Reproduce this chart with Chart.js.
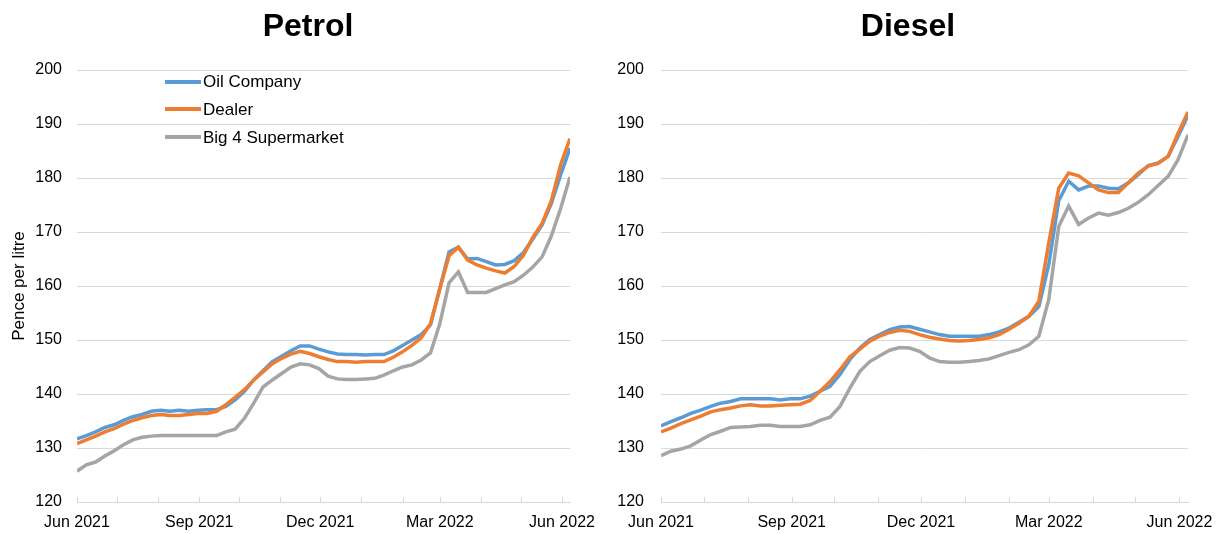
<!DOCTYPE html>
<html>
<head>
<meta charset="utf-8">
<script src="https://cdn.jsdelivr.net/npm/chart.js@4.4.0/dist/chart.umd.min.js"></script>
<style>
  html, body { margin: 0; padding: 0; background: #fff; }
  body { width: 1217px; height: 534px; position: relative; overflow: hidden; font-family: "Liberation Sans", Arial, sans-serif; }
  .box { position: absolute; top: 0; height: 534px; }
  #petrolBox { left: 0; width: 600px; }
  #dieselBox { left: 600px; width: 617px; }
  .title { position: absolute; top: 6px; width: 200px; text-align: center; font-size: 32px; font-weight: bold; color: #000; line-height: 38px; }
  .legend { position: absolute; left: 165px; top: 71px; font-size: 17px; color: #000; }
  .legend div { height: 27.8px; line-height: 22px; white-space: nowrap; }
  .legend span.swatch { display: inline-block; width: 36px; height: 4px; vertical-align: middle; margin-right: 2px; position: relative; top: -1px; }
</style>
</head>
<body>
<div class="box" id="petrolBox"><canvas id="petrolChart"></canvas></div>
<div class="box" id="dieselBox"><canvas id="dieselChart"></canvas></div>
<div class="title" style="left:208px">Petrol</div>
<div class="title" style="left:808px">Diesel</div>
<div class="legend" id="legend"></div>

<script>
// weekly dates
const weeks = [
  '2021-06-01', '2021-06-08', '2021-06-15', '2021-06-22', '2021-06-29',
  '2021-07-06', '2021-07-13', '2021-07-20', '2021-07-27', '2021-08-03',
  '2021-08-10', '2021-08-17', '2021-08-24', '2021-08-31', '2021-09-07',
  '2021-09-14', '2021-09-21', '2021-09-28', '2021-10-05', '2021-10-12',
  '2021-10-19', '2021-10-26', '2021-11-02', '2021-11-09', '2021-11-16',
  '2021-11-23', '2021-11-30', '2021-12-07', '2021-12-14', '2021-12-21',
  '2021-12-28', '2022-01-04', '2022-01-11', '2022-01-18', '2022-01-25',
  '2022-02-01', '2022-02-08', '2022-02-15', '2022-02-22', '2022-03-01',
  '2022-03-08', '2022-03-15', '2022-03-22', '2022-03-29', '2022-04-05',
  '2022-04-12', '2022-04-19', '2022-04-26', '2022-05-03', '2022-05-10',
  '2022-05-17', '2022-05-24', '2022-05-31', '2022-06-07'
];

// month tick marks, labelled every quarter
const monthTicks = [
  '2021-06-01', '2021-07-01', '2021-08-01', '2021-09-01', '2021-10-01',
  '2021-11-01', '2021-12-01', '2022-01-01', '2022-02-01', '2022-03-01',
  '2022-04-01', '2022-05-01', '2022-06-01'
];
const tickLabels = ['Jun 2021', '', '', 'Sep 2021', '', '', 'Dec 2021', '', '', 'Mar 2022', '', '', 'Jun 2022'];

const yTicks = [120, 130, 140, 150, 160, 170, 180, 190, 200];

const seriesNames = ['Oil Company', 'Dealer', 'Big 4 Supermarket'];
const seriesColors = ['#5B9BD5', '#ED7D31', '#A5A5A5'];

// petrol, pence per litre
const petrolOil = [
  131.7, 132.3, 133.0, 133.8, 134.3, 135.1, 135.8, 136.2, 136.8, 137.0,
  136.8, 137.0, 136.8, 137.0, 137.1, 137.1, 137.7, 138.9, 140.5, 142.6,
  144.3, 146.0, 147.0, 148.0, 148.9, 148.9, 148.3, 147.8, 147.4, 147.3,
  147.3, 147.2, 147.3, 147.3, 148.0, 149.0, 150.0, 151.0, 152.8, 159.5,
  166.3, 167.2, 165.0, 165.1, 164.5, 163.9, 164.0, 164.7, 166.2, 168.7,
  171.3, 175.3, 180.6, 185.5
];
const petrolDealer = [
  130.8, 131.5, 132.2, 133.0, 133.6, 134.4, 135.1, 135.6, 136.0, 136.2,
  136.0, 136.0, 136.2, 136.4, 136.4, 136.8, 138.0, 139.4, 140.8, 142.6,
  144.1, 145.6, 146.6, 147.4, 147.9, 147.5, 146.9, 146.4, 146.0, 146.0,
  145.9, 146.0, 146.0, 146.0, 146.8, 147.8, 149.0, 150.4, 153.0, 159.5,
  165.6, 167.2, 164.8, 163.9, 163.3, 162.8, 162.4, 163.6, 165.7, 169.0,
  171.6, 175.8, 182.5, 187.3
];
const petrolSuper = [
  125.7, 126.9, 127.4, 128.5, 129.5, 130.6, 131.5, 132.0, 132.2, 132.3,
  132.3, 132.3, 132.3, 132.3, 132.3, 132.3, 133.0, 133.5, 135.5, 138.3,
  141.3, 142.6, 143.8, 145.0, 145.6, 145.4, 144.7, 143.3, 142.8, 142.7,
  142.7, 142.8, 142.9, 143.5, 144.3, 145.0, 145.4, 146.3, 147.6, 153.0,
  160.6, 162.6, 158.8, 158.8, 158.8, 159.5, 160.2, 160.8, 162.0, 163.5,
  165.4, 169.3, 174.4, 180.2
];

// diesel, pence per litre
const dieselOil = [
  134.1, 134.9, 135.6, 136.4, 137.0, 137.7, 138.3, 138.6, 139.1, 139.1,
  139.1, 139.1, 138.9, 139.1, 139.1, 139.6, 140.5, 141.4, 143.6, 146.4,
  148.5, 150.1, 151.0, 151.9, 152.4, 152.5, 152.0, 151.5, 151.0, 150.7,
  150.7, 150.7, 150.7, 151.0, 151.5, 152.2, 153.3, 154.4, 156.2, 164.0,
  175.8, 179.4, 177.8, 178.5, 178.5, 178.1, 178.0, 179.1, 180.6, 182.3,
  182.8, 184.0, 187.7, 191.6
];
const dieselDealer = [
  133.0, 133.7, 134.5, 135.2, 135.9, 136.7, 137.1, 137.4, 137.8, 138.0,
  137.8, 137.8, 137.9, 138.0, 138.1, 138.8, 140.5, 142.3, 144.5, 146.9,
  148.3, 149.8, 150.7, 151.4, 151.8, 151.6, 151.0, 150.5, 150.2, 149.9,
  149.8, 149.9, 150.1, 150.4, 151.0, 152.0, 153.1, 154.4, 157.2, 168.0,
  178.1, 180.9, 180.4, 179.1, 177.8, 177.3, 177.3, 179.1, 180.9, 182.2,
  182.7, 184.0, 188.3, 192.2
];
const dieselSuper = [
  128.6, 129.4, 129.8, 130.4, 131.5, 132.5, 133.1, 133.8, 133.9, 134.0,
  134.2, 134.2, 134.0, 134.0, 134.0, 134.3, 135.1, 135.7, 137.7, 141.1,
  144.2, 146.0, 147.1, 148.1, 148.6, 148.5, 147.9, 146.7, 146.0, 145.9,
  145.9, 146.0, 146.2, 146.5, 147.1, 147.7, 148.2, 149.1, 150.7, 157.5,
  171.0, 174.8, 171.4, 172.6, 173.5, 173.1, 173.6, 174.4, 175.5, 176.9,
  178.6, 180.3, 183.4, 188.0
];

const FONT = '"Liberation Sans", Arial, sans-serif';
const GRID = '#D9D9D9';

const dayOf = s => (Date.parse(s) - Date.parse(weeks[0])) / 86400000;
const weekDays = weeks.map(dayOf);
const tickDays = monthTicks.map(dayOf);

// Excel style tick marks pointing into the plot
const insideTicks = {
  id: 'insideTicks',
  afterDatasetsDraw(chart) {
    const x = chart.scales.x;
    const ctx = chart.ctx;
    ctx.save();
    ctx.strokeStyle = GRID;
    ctx.lineWidth = 1;
    x.ticks.forEach(t => {
      const px = Math.round(x.getPixelForValue(t.value)) + 0.5;
      ctx.beginPath();
      ctx.moveTo(px, x.top);
      ctx.lineTo(px, x.top - 5);
      ctx.stroke();
    });
    ctx.restore();
  }
};

function makeChart(id, values, opts) {
  const datasets = values.map((vals, i) => ({
    label: seriesNames[i],
    data: vals.map((v, j) => ({ x: weekDays[j], y: v })),
    borderColor: seriesColors[i],
    backgroundColor: seriesColors[i],
    borderWidth: 3.5,
    pointRadius: 0,
    tension: 0,
    order: [1, 0, 2][i]
  }));

  return new Chart(document.getElementById(id), {
    type: 'line',
    data: { datasets },
    plugins: [insideTicks],
    options: {
      responsive: true,
      maintainAspectRatio: false,
      animation: false,
      layout: { padding: { left: 0, right: opts.right, top: 70, bottom: 0 } },
      plugins: {
        legend: { display: false },
        tooltip: { enabled: false }
      },
      scales: {
        x: {
          type: 'linear',
          min: 0,
          max: weekDays[weekDays.length - 1],
          afterBuildTicks: s => { s.ticks = tickDays.map(v => ({ value: v })); },
          afterFit: s => { s.height = 32; s.paddingLeft = 0; s.paddingRight = 0; },
          ticks: {
            autoSkip: false,
            maxRotation: 0,
            padding: 11,
            color: '#000',
            font: { family: FONT, size: 16 },
            callback: v => tickLabels[tickDays.indexOf(v)]
          },
          grid: { display: false, drawTicks: false },
          border: { display: true, color: GRID, width: 1 }
        },
        y: {
          min: 120,
          max: 200,
          afterBuildTicks: s => { s.ticks = yTicks.map(v => ({ value: v })); },
          afterFit: s => { s.width = opts.yWidth; },
          ticks: {
            padding: opts.tickPad,
            color: '#000',
            font: { family: FONT, size: 16 }
          },
          grid: { color: GRID, lineWidth: 1, drawTicks: false },
          border: { display: false },
          title: {
            display: opts.yTitle,
            text: 'Pence per litre',
            color: '#000',
            font: { family: FONT, size: 17 },
            padding: { top: 9, bottom: 0 }
          }
        }
      }
    }
  });
}

makeChart('petrolChart', [petrolOil, petrolDealer, petrolSuper],
  { right: 30, yWidth: 77, tickPad: 15, yTitle: true });
makeChart('dieselChart', [dieselOil, dieselDealer, dieselSuper],
  { right: 29, yWidth: 61, tickPad: 17, yTitle: false });

// legend inside the petrol plot
const legend = document.getElementById('legend');
seriesNames.forEach((name, i) => {
  const row = document.createElement('div');
  row.innerHTML = '<span class="swatch" style="background:' + seriesColors[i] + '"></span>' + name;
  legend.appendChild(row);
});
</script>
</body>
</html>
